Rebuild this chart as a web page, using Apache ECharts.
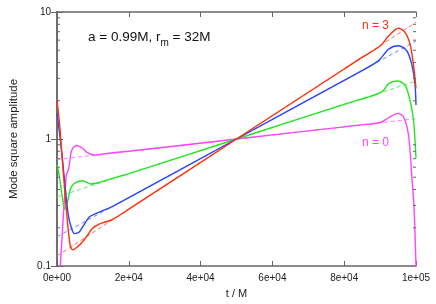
<!DOCTYPE html>
<html>
<head>
<meta charset="utf-8">
<script src="https://cdn.jsdelivr.net/npm/echarts@6/dist/echarts.min.js"></script>
<style>
html,body{margin:0;padding:0;background:#fff;}
#c{width:436px;height:304px;}
</style>
</head>
<body>
<div id="c"></div>
<script>
// ---- data ----
const xTickLabels = ['0e+00','2e+04','4e+04','6e+04','8e+04','1e+05'];
const yTickLabels = {'0.1':'0.1','1':'1','10':'10'};
const yMinorTicks = [0.2,0.3,0.4,0.5,0.6,0.7,0.8,0.9,2,3,4,5,6,7,8,9];

// n = 3 (red)
const redT = [0,740,1650,2550,3650,4400,5770,7140,8520,9890,11730,15380,20000,50000,80000,84600,90100,92380,95130,96970,98350,99260,100000];
const redV = [2.02,1.29,0.594,0.29,0.146,0.134,0.142,0.155,0.175,0.198,0.214,0.232,0.28,1.0,3.56,4.33,5.42,6.49,7.45,6.89,5.58,3.90,2.5];
// n = 2 (blue)
const blueT = [0,1000,2000,3100,3930,4860,6180,7600,8980,10800,15380,20000,50000,80000,84600,89600,92380,95130,97420,98790,99700,100000];
const blueV = [1.6,0.95,0.506,0.257,0.203,0.18,0.185,0.213,0.243,0.258,0.294,0.345,1.0,2.9,3.41,4.14,5.1,5.42,4.95,3.9,2.73,1.85];
// n = 1 (green)
const greenT = [0,700,1400,2200,3000,3900,5300,7140,9430,11730,15380,20000,50000,80000,84600,90500,92380,94850,96970,98350,99260,99700,100000];
const greenV = [0.63,0.50,0.36,0.28,0.327,0.416,0.455,0.469,0.442,0.455,0.49,0.533,1.0,1.875,2.05,2.35,2.73,2.86,2.65,2.0,1.45,1.0,0.71];
// n = 0 (magenta)
const magT = [0,900,2550,3300,3900,4580,5580,7000,8500,10520,12000,15380,20000,50000,80000,84600,90100,92380,94850,96500,97900,98800,99450,100000];
const magV = [0.05,0.1,0.51,0.59,0.78,0.86,0.89,0.85,0.78,0.746,0.755,0.78,0.80,1.0,1.247,1.29,1.35,1.47,1.59,1.50,1.08,0.527,0.29,0.1];

// fits (dashed)
const fitT = [0,100000];
const redFit = [0.12,8.3];
const blueFit = [0.17,5.9];
const greenFit = [0.35,2.85];
const magFit = [0.69,1.445];

const zip = (t,v) => t.map((x,i)=>[x,v[i]]);

const C = {red:'#ff2f0a', blue:'#2a45ff', green:'#22e622', mag:'#ff44ff'};
const CL = {red:'#ff7060', blue:'#7088ff', green:'#66e866', mag:'#ff80ff'};
const FONT = 'Liberation Sans';
const axisCol = '#666666';

function solid(name, data, col){
  return {name, type:'line', data, showSymbol:false, symbol:'none', smooth:0.3,
    lineStyle:{color:col, width:1.4}, z:3, animation:false, clip:true};
}
function dashed(name, data, col){
  return {name, type:'line', data, showSymbol:false, symbol:'none',
    lineStyle:{color:col, width:1, type:[4,3]}, z:2, animation:false, clip:true};
}

const chart = echarts.init(document.getElementById('c'), null, {renderer:'canvas'});
chart.setOption({
  animation:false,
  backgroundColor:'#fff',
  grid:{left:52, right:20, top:12, bottom:35},
  xAxis:[{
    type:'value', min:0, max:100000, interval:20000,
    name:'t / M', nameLocation:'middle', nameGap:22,
    nameTextStyle:{fontFamily:FONT, fontSize:11, color:'#222'},
    axisLine:{show:true, lineStyle:{color:axisCol, width:1.5}},
    axisTick:{show:true, inside:true, length:5, lineStyle:{color:axisCol, width:1}},
    axisLabel:{fontFamily:FONT, fontSize:10, color:'#222', margin:7,
      formatter:v=>xTickLabels[Math.round(v/20000)]},
    splitLine:{show:false}
  },{
    type:'value', min:0, max:100000, interval:20000, position:'top',
    axisLine:{show:true, lineStyle:{color:axisCol, width:1.5}},
    axisTick:{show:true, inside:true, length:5, lineStyle:{color:axisCol, width:1}},
    axisLabel:{show:false}, splitLine:{show:false}
  }],
  yAxis:[{
    type:'log', logBase:10, min:0.1, max:10,
    name:'Mode square amplitude', nameLocation:'middle', nameGap:37,
    nameTextStyle:{fontFamily:FONT, fontSize:11.5, color:'#222'},
    axisLine:{show:true, lineStyle:{color:axisCol, width:1.5}},
    axisTick:{show:true, inside:true, length:6, lineStyle:{color:axisCol, width:1}},
    axisLabel:{fontFamily:FONT, fontSize:10, color:'#222', margin:6,
      formatter:v=>yTickLabels[String(+v.toPrecision(3))] || ''},
    splitLine:{show:false}
  },{
    type:'log', logBase:10, min:0.1, max:10, position:'right',
    axisLine:{show:true, lineStyle:{color:axisCol, width:1.5}},
    axisTick:{show:true, inside:true, length:6, lineStyle:{color:axisCol, width:1}},
    axisLabel:{show:false}, splitLine:{show:false}
  }],
  graphic:[
    {type:'text', left:88, top:30, style:{
      text:'{a|a = 0.99M, r}{s|m}{a| = 32M}',
      rich:{a:{fontFamily:FONT, fontSize:13.5, fill:'#111', verticalAlign:'bottom', lineHeight:16},
            s:{fontFamily:FONT, fontSize:10, fill:'#111', verticalAlign:'bottom', lineHeight:11, padding:[0,0,-4,0]}}
    }},
    {type:'text', left:362, top:20, style:{text:'n = 3', fontFamily:FONT, fontSize:12, fill:C.red}},
    {type:'text', left:362, top:137, style:{text:'n = 0', fontFamily:FONT, fontSize:12, fill:C.mag}}
  ],
  series:[
    dashed('fit0', zip(fitT, magFit), CL.mag),
    dashed('fit1', zip(fitT, greenFit), CL.green),
    dashed('fit2', zip(fitT, blueFit), CL.blue),
    dashed('fit3', zip(fitT, redFit), CL.red),
    solid('n0', zip(magT, magV), C.mag),
    solid('n1', zip(greenT, greenV), C.green),
    solid('n2', zip(blueT, blueV), C.blue),
    solid('n3', zip(redT, redV), C.red),
    {
      type:'custom', name:'minorTicks', silent:true, clip:false, z:5,
      data: yMinorTicks.map(v=>[0,v]),
      renderItem:function(params, api){
        const l = api.coord([0, api.value(1)]);
        const r = api.coord([100000, api.value(1)]);
        const st = {stroke:axisCol, lineWidth:1};
        return {type:'group', children:[
          {type:'line', shape:{x1:l[0], y1:l[1], x2:l[0]+3, y2:l[1]}, style:st},
          {type:'line', shape:{x1:r[0]-3, y1:r[1], x2:r[0], y2:r[1]}, style:st}
        ]};
      }
    }
  ]
});
</script>
</body>
</html>
